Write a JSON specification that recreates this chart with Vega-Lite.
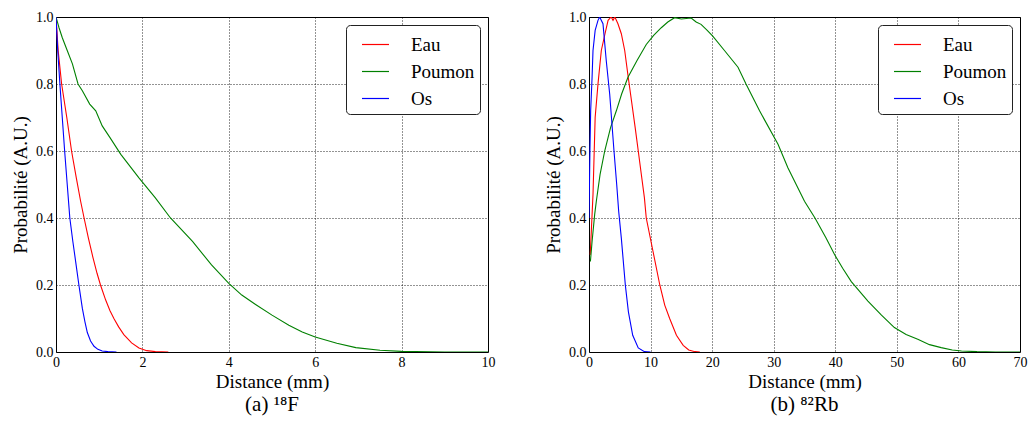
{
  "$schema": "https://vega.github.io/schema/vega-lite/v6.json",
  "padding": {"left": 11, "top": 9, "right": 0, "bottom": 5},
  "background": "white",
  "config": {
    "font": "Liberation Serif",
    "view": {"stroke": "black", "strokeWidth": 1},
    "axis": {
      "gridColor": "black", "gridDash": [1, 2], "gridOpacity": 0.85, "gridWidth": 1,
      "domain": false, "ticks": false, "labelFlush": false,
      "labelFont": "Liberation Serif", "labelFontSize": 14, "labelColor": "black", "labelPadding": 3,
      "titleFont": "Liberation Serif", "titleFontSize": 19, "titleFontWeight": "normal", "titleColor": "black"
    },
    "legend": {
      "title": null, "orient": "top-right", "offset": 8,
      "symbolType": "stroke", "symbolSize": 729, "symbolStrokeWidth": 1.2,
      "symbolOffset": 10, "labelOffset": 21, "labelFont": "Liberation Serif", "labelFontSize": 19, "labelColor": "black",
      "padding": 5, "rowPadding": 2,
      "strokeColor": "#222", "fillColor": "white", "cornerRadius": 4
    },
    "title": {"font": "Liberation Serif", "fontSize": 21, "fontWeight": "normal", "color": "black", "orient": "bottom", "anchor": "middle", "offset": 3},
    "concat": {"spacing": 48}
  },
  "datasets": {
    "f18": [
      {"m": "Eau", "d": 0, "p": 1.0}, {"m": "Eau", "d": 0.05, "p": 0.9}, {"m": "Eau", "d": 0.13, "p": 0.8}, {"m": "Eau", "d": 0.25, "p": 0.7},
      {"m": "Eau", "d": 0.36, "p": 0.6}, {"m": "Eau", "d": 0.47, "p": 0.52}, {"m": "Eau", "d": 0.57, "p": 0.45}, {"m": "Eau", "d": 0.65, "p": 0.4},
      {"m": "Eau", "d": 0.75, "p": 0.34}, {"m": "Eau", "d": 0.85, "p": 0.285}, {"m": "Eau", "d": 0.95, "p": 0.235}, {"m": "Eau", "d": 1.03, "p": 0.2},
      {"m": "Eau", "d": 1.15, "p": 0.155}, {"m": "Eau", "d": 1.25, "p": 0.123}, {"m": "Eau", "d": 1.34, "p": 0.1}, {"m": "Eau", "d": 1.45, "p": 0.075}, {"m": "Eau", "d": 1.57, "p": 0.052},
      {"m": "Eau", "d": 1.75, "p": 0.027}, {"m": "Eau", "d": 1.92, "p": 0.012}, {"m": "Eau", "d": 2.1, "p": 0.004}, {"m": "Eau", "d": 2.3, "p": 0.001},
      {"m": "Eau", "d": 2.6, "p": 0},
      {"m": "Poumon", "d": 0, "p": 1.0}, {"m": "Poumon", "d": 0.07, "p": 0.968}, {"m": "Poumon", "d": 0.146, "p": 0.938}, {"m": "Poumon", "d": 0.26, "p": 0.9},
      {"m": "Poumon", "d": 0.38, "p": 0.86}, {"m": "Poumon", "d": 0.51, "p": 0.8}, {"m": "Poumon", "d": 0.61, "p": 0.78}, {"m": "Poumon", "d": 0.78, "p": 0.74},
      {"m": "Poumon", "d": 0.92, "p": 0.72}, {"m": "Poumon", "d": 1.07, "p": 0.675}, {"m": "Poumon", "d": 1.25, "p": 0.64}, {"m": "Poumon", "d": 1.5, "p": 0.59},
      {"m": "Poumon", "d": 1.92, "p": 0.52}, {"m": "Poumon", "d": 2.3, "p": 0.46}, {"m": "Poumon", "d": 2.65, "p": 0.4}, {"m": "Poumon", "d": 3.16, "p": 0.33},
      {"m": "Poumon", "d": 3.6, "p": 0.26}, {"m": "Poumon", "d": 4.0, "p": 0.205}, {"m": "Poumon", "d": 4.3, "p": 0.17}, {"m": "Poumon", "d": 4.62, "p": 0.142},
      {"m": "Poumon", "d": 5.0, "p": 0.11}, {"m": "Poumon", "d": 5.39, "p": 0.08}, {"m": "Poumon", "d": 5.7, "p": 0.06}, {"m": "Poumon", "d": 6.0, "p": 0.045},
      {"m": "Poumon", "d": 6.5, "p": 0.026}, {"m": "Poumon", "d": 6.94, "p": 0.013}, {"m": "Poumon", "d": 7.5, "p": 0.005}, {"m": "Poumon", "d": 8.0, "p": 0.002},
      {"m": "Poumon", "d": 9.0, "p": 0}, {"m": "Poumon", "d": 10, "p": 0},
      {"m": "Os", "d": 0, "p": 1.0}, {"m": "Os", "d": 0.04, "p": 0.9}, {"m": "Os", "d": 0.09, "p": 0.8}, {"m": "Os", "d": 0.145, "p": 0.7},
      {"m": "Os", "d": 0.2, "p": 0.6}, {"m": "Os", "d": 0.26, "p": 0.5}, {"m": "Os", "d": 0.32, "p": 0.4}, {"m": "Os", "d": 0.39, "p": 0.33},
      {"m": "Os", "d": 0.455, "p": 0.27}, {"m": "Os", "d": 0.53, "p": 0.2}, {"m": "Os", "d": 0.61, "p": 0.13}, {"m": "Os", "d": 0.67, "p": 0.09},
      {"m": "Os", "d": 0.725, "p": 0.058}, {"m": "Os", "d": 0.8, "p": 0.033}, {"m": "Os", "d": 0.88, "p": 0.017}, {"m": "Os", "d": 0.97, "p": 0.008},
      {"m": "Os", "d": 1.07, "p": 0.003}, {"m": "Os", "d": 1.2, "p": 0.001}, {"m": "Os", "d": 1.4, "p": 0}
    ],
    "rb82": [
      {"m": "Eau", "d": 0.2, "p": 0.29}, {"m": "Eau", "d": 0.65, "p": 0.47}, {"m": "Eau", "d": 1.0, "p": 0.7}, {"m": "Eau", "d": 1.46, "p": 0.8},
      {"m": "Eau", "d": 2.0, "p": 0.9}, {"m": "Eau", "d": 2.6, "p": 0.95}, {"m": "Eau", "d": 3.1, "p": 0.99}, {"m": "Eau", "d": 3.6, "p": 1.0},
      {"m": "Eau", "d": 3.9, "p": 0.99}, {"m": "Eau", "d": 4.2, "p": 1.0}, {"m": "Eau", "d": 4.7, "p": 0.98}, {"m": "Eau", "d": 5.25, "p": 0.95},
      {"m": "Eau", "d": 5.8, "p": 0.9}, {"m": "Eau", "d": 6.3, "p": 0.83}, {"m": "Eau", "d": 6.9, "p": 0.75}, {"m": "Eau", "d": 7.5, "p": 0.67},
      {"m": "Eau", "d": 8.0, "p": 0.6}, {"m": "Eau", "d": 8.5, "p": 0.53}, {"m": "Eau", "d": 9.0, "p": 0.46}, {"m": "Eau", "d": 9.3, "p": 0.4},
      {"m": "Eau", "d": 10.4, "p": 0.3}, {"m": "Eau", "d": 11.5, "p": 0.2}, {"m": "Eau", "d": 12.3, "p": 0.14}, {"m": "Eau", "d": 13.1, "p": 0.1},
      {"m": "Eau", "d": 14.2, "p": 0.05}, {"m": "Eau", "d": 15.3, "p": 0.02}, {"m": "Eau", "d": 16.2, "p": 0.006}, {"m": "Eau", "d": 17.2, "p": 0.001},
      {"m": "Eau", "d": 18, "p": 0},
      {"m": "Poumon", "d": 0.23, "p": 0.27}, {"m": "Poumon", "d": 0.5, "p": 0.33}, {"m": "Poumon", "d": 0.92, "p": 0.41}, {"m": "Poumon", "d": 1.19, "p": 0.45},
      {"m": "Poumon", "d": 1.8, "p": 0.53}, {"m": "Poumon", "d": 2.55, "p": 0.6}, {"m": "Poumon", "d": 3.5, "p": 0.67}, {"m": "Poumon", "d": 4.44, "p": 0.72},
      {"m": "Poumon", "d": 5.3, "p": 0.77}, {"m": "Poumon", "d": 6.33, "p": 0.82}, {"m": "Poumon", "d": 7.8, "p": 0.87}, {"m": "Poumon", "d": 9.3, "p": 0.918},
      {"m": "Poumon", "d": 10.5, "p": 0.945}, {"m": "Poumon", "d": 11.74, "p": 0.968}, {"m": "Poumon", "d": 12.8, "p": 0.985}, {"m": "Poumon", "d": 13.9, "p": 0.998},
      {"m": "Poumon", "d": 15.0, "p": 0.994}, {"m": "Poumon", "d": 16.6, "p": 0.997}, {"m": "Poumon", "d": 17.4, "p": 0.985}, {"m": "Poumon", "d": 18.2, "p": 0.978},
      {"m": "Poumon", "d": 19.2, "p": 0.96}, {"m": "Poumon", "d": 20.1, "p": 0.943}, {"m": "Poumon", "d": 22.0, "p": 0.9}, {"m": "Poumon", "d": 24.2, "p": 0.85},
      {"m": "Poumon", "d": 25.5, "p": 0.8}, {"m": "Poumon", "d": 27.7, "p": 0.72}, {"m": "Poumon", "d": 30.7, "p": 0.62}, {"m": "Poumon", "d": 32.3, "p": 0.55},
      {"m": "Poumon", "d": 35.0, "p": 0.45}, {"m": "Poumon", "d": 36.7, "p": 0.4}, {"m": "Poumon", "d": 38.5, "p": 0.34}, {"m": "Poumon", "d": 39.9, "p": 0.29},
      {"m": "Poumon", "d": 41.2, "p": 0.25}, {"m": "Poumon", "d": 42.6, "p": 0.21}, {"m": "Poumon", "d": 45.3, "p": 0.152}, {"m": "Poumon", "d": 47.5, "p": 0.11},
      {"m": "Poumon", "d": 49.6, "p": 0.073}, {"m": "Poumon", "d": 51.5, "p": 0.052}, {"m": "Poumon", "d": 53.4, "p": 0.038}, {"m": "Poumon", "d": 55.3, "p": 0.022},
      {"m": "Poumon", "d": 57.2, "p": 0.013}, {"m": "Poumon", "d": 59.0, "p": 0.006}, {"m": "Poumon", "d": 60.5, "p": 0.003}, {"m": "Poumon", "d": 63, "p": 0.001},
      {"m": "Poumon", "d": 66, "p": 0}, {"m": "Poumon", "d": 70, "p": 0},
      {"m": "Os", "d": 0, "p": 0.4}, {"m": "Os", "d": 0.15, "p": 0.6}, {"m": "Os", "d": 0.27, "p": 0.72}, {"m": "Os", "d": 0.5, "p": 0.82},
      {"m": "Os", "d": 0.65, "p": 0.9}, {"m": "Os", "d": 1.0, "p": 0.96}, {"m": "Os", "d": 1.46, "p": 0.99}, {"m": "Os", "d": 1.73, "p": 1.0},
      {"m": "Os", "d": 2.27, "p": 0.98}, {"m": "Os", "d": 2.8, "p": 0.87}, {"m": "Os", "d": 3.36, "p": 0.77}, {"m": "Os", "d": 4.06, "p": 0.6},
      {"m": "Os", "d": 4.5, "p": 0.5}, {"m": "Os", "d": 4.82, "p": 0.42}, {"m": "Os", "d": 5.25, "p": 0.34}, {"m": "Os", "d": 5.9, "p": 0.2},
      {"m": "Os", "d": 6.4, "p": 0.12}, {"m": "Os", "d": 7.1, "p": 0.05}, {"m": "Os", "d": 8.0, "p": 0.012}, {"m": "Os", "d": 9.0, "p": 0.001},
      {"m": "Os", "d": 10, "p": 0}
    ]
  },
  "hconcat": [
    {
      "width": 432, "height": 335,
      "title": {"text": "(a) ¹⁸F"},
      "data": {"name": "f18"},
      "mark": {"type": "line", "strokeWidth": 1.1, "clip": true},
      "encoding": {
        "x": {"field": "d", "type": "quantitative", "scale": {"domain": [0, 10], "nice": false},
              "axis": {"title": "Distance (mm)", "values": [0, 2, 4, 6, 8, 10], "format": "d", "titlePadding": 3}},
        "y": {"field": "p", "type": "quantitative", "scale": {"domain": [0, 1], "nice": false},
              "axis": {"title": "Probabilité (A.U.)", "values": [0, 0.2, 0.4, 0.6, 0.8, 1.0], "format": ".1f", "titlePadding": 5}},
        "color": {"field": "m", "type": "nominal",
                  "scale": {"domain": ["Eau", "Poumon", "Os"], "range": ["#ff0000", "#008000", "#0000ff"]}}
      }
    },
    {
      "width": 431, "height": 335,
      "title": {"text": "(b) ⁸²Rb"},
      "data": {"name": "rb82"},
      "mark": {"type": "line", "strokeWidth": 1.1, "clip": true},
      "encoding": {
        "x": {"field": "d", "type": "quantitative", "scale": {"domain": [0, 70], "nice": false},
              "axis": {"title": "Distance (mm)", "values": [0, 10, 20, 30, 40, 50, 60, 70], "format": "d", "titlePadding": 3}},
        "y": {"field": "p", "type": "quantitative", "scale": {"domain": [0, 1], "nice": false},
              "axis": {"title": "Probabilité (A.U.)", "values": [0, 0.2, 0.4, 0.6, 0.8, 1.0], "format": ".1f", "titlePadding": 5}},
        "color": {"field": "m", "type": "nominal",
                  "scale": {"domain": ["Eau", "Poumon", "Os"], "range": ["#ff0000", "#008000", "#0000ff"]}}
      }
    }
  ],
  "resolve": {"legend": {"color": "independent"}}
}
